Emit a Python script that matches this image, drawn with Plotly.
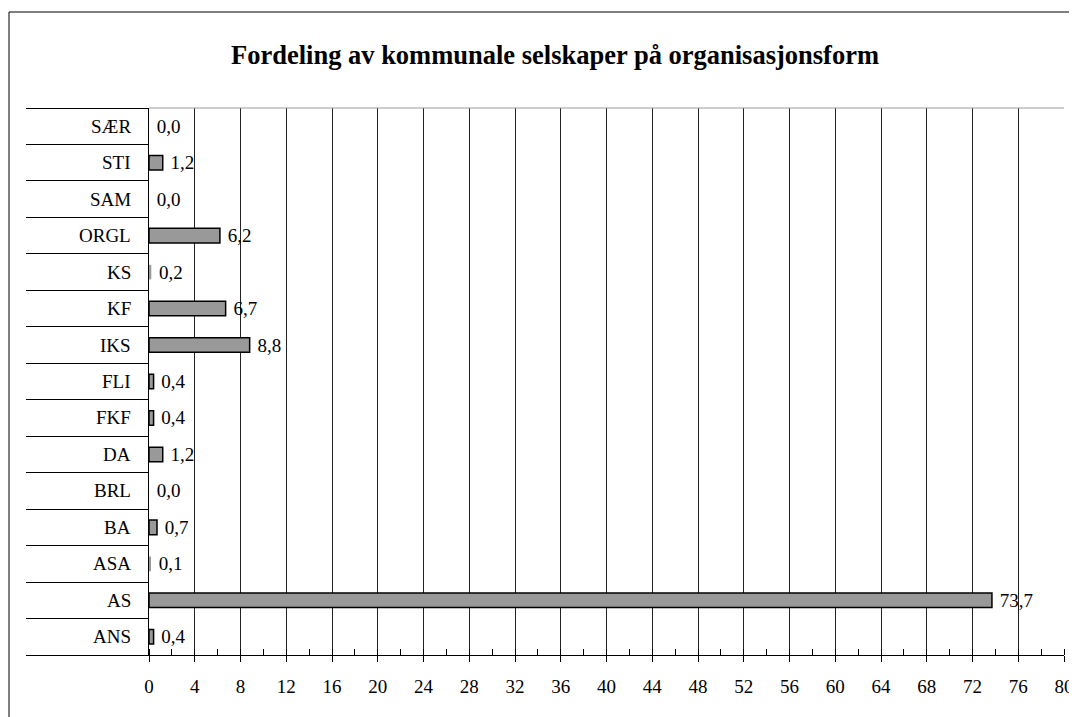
import plotly.graph_objects as go

# ── Data (bottom to top, as drawn) ─────────────────────────────────────
categories = ["ANS", "AS", "ASA", "BA", "BRL", "DA", "FKF", "FLI", "IKS",
              "KF", "KS", "ORGL", "SAM", "STI", "SÆR"]
shares = [0.4, 73.7, 0.1, 0.7, 0.0, 1.2, 0.4, 0.4, 8.8,
          6.7, 0.2, 6.2, 0.0, 1.2, 0.0]
x_ticks = list(range(0, 81, 4))

TITLE = "Fordeling av kommunale selskaper på organisasjonsform"
FONT = "Liberation Serif"

# the page body adds an 8px margin, so the figure is 8px smaller each way
FIG_W, FIG_H = 1069, 709
M_L, M_R, M_T, M_B = 141, 13, 100, 62
PLOT_W = FIG_W - M_L - M_R
PLOT_H = FIG_H - M_T - M_B

# bars too thin to show get no outline (as in the original chart)
outline_w = [1.5 if v >= 0.3 else 0 for v in shares]

fig = go.Figure()
fig.add_trace(
    go.Bar(
        y=categories,
        x=shares,
        orientation="h",
        width=0.4,
        marker=dict(color="#999999", line=dict(color="black", width=outline_w)),
        texttemplate=" %{x:.1f}",
        textposition="outside",
        constraintext="none",
        textfont=dict(family=FONT, size=19, color="black"),
        cliponaxis=False,
        hoverinfo="skip",
    )
)

fig.update_layout(
    width=FIG_W,
    height=FIG_H,
    margin=dict(l=M_L, r=M_R, t=M_T, b=M_B),
    paper_bgcolor="white",
    plot_bgcolor="white",
    separators=", ",
    showlegend=False,
    font=dict(family=FONT, size=19, color="black"),
    title=dict(
        text=f"<b>{TITLE}</b>",
        x=547 / FIG_W,
        xanchor="center",
        y=1 - 47 / FIG_H,
        yanchor="middle",
        font=dict(family=FONT, size=26.5, color="black"),
    ),
)

fig.update_xaxes(
    range=[0, 80],
    tickvals=x_ticks,
    automargin=False,
    showgrid=True,
    gridcolor="#222222",
    gridwidth=1,
    zeroline=False,
    showline=True,
    linecolor="black",
    linewidth=1,
    ticks="outside",
    ticklen=6,
    tickcolor="black",
    minor=dict(dtick=2, ticks="inside", ticklen=6, tickcolor="black", showgrid=False),
    tickfont=dict(family=FONT, size=19),
    ticklabelstandoff=8,
)

fig.update_yaxes(
    type="category",
    categoryorder="array",
    categoryarray=categories,
    range=[-0.5, len(categories) - 0.5],
    automargin=False,
    tickson="boundaries",
    ticks="outside",
    ticklen=122,
    tickcolor="black",
    tickwidth=1,
    showline=True,
    linecolor="black",
    linewidth=1,
    showgrid=False,
    showticklabels=False,
)

# category labels, right-aligned just left of the value axis
for cat in categories:
    fig.add_annotation(
        x=-16 / PLOT_W, xref="paper", xanchor="right",
        y=cat, yref="y", yanchor="middle",
        text=cat, showarrow=False,
        font=dict(family=FONT, size=19, color="black"),
    )

# top edge of plot area (light grey) and outer chart frame
fig.add_shape(type="line", xref="paper", yref="paper", x0=0, x1=1, y0=1, y1=1,
              line=dict(color="#9a9a9a", width=1))
fig.add_shape(type="rect", xref="paper", yref="paper",
              x0=-140 / PLOT_W, x1=1.2, y0=-0.3, y1=1 + 96 / PLOT_H,
              line=dict(color="black", width=1), layer="below")

fig.write_html("out.html")
